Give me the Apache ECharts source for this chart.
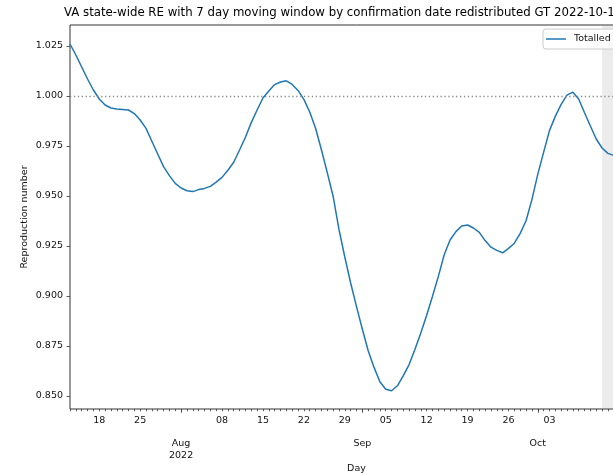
<!DOCTYPE html>
<html>
<head>
<meta charset="utf-8">
<script src="https://cdn.jsdelivr.net/npm/echarts@6/dist/echarts.min.js"></script>
<style>
  html, body { margin: 0; padding: 0; background: #fff; overflow: hidden; }
  /* the figure is wider than the window; its right part falls outside the view */
  #chart { width: 660px; height: 475px; }
</style>
</head>
<body>
<div id="chart"></div>
<script>
// Daily reproduction number estimates, starting 2022-07-13
const startDate = '2022-07-13';
const reValues = [
  1.0260, 1.0205, 1.0145, 1.0085, 1.0030, 0.9985, 0.9955, 0.9940, 0.9935, 0.9933,
  0.9930, 0.9912, 0.9880, 0.9838, 0.9774, 0.9710, 0.9647, 0.9602, 0.9563, 0.9540,
  0.9526, 0.9522, 0.9532, 0.9538, 0.9548, 0.9569, 0.9593, 0.9629, 0.9669, 0.9730,
  0.9794, 0.9867, 0.9930, 0.9990, 1.0025, 1.0057, 1.0070, 1.0076, 1.0058, 1.0028,
  0.9983, 0.9920, 0.9839, 0.9731, 0.9617, 0.9499, 0.9333, 0.9195, 0.9065, 0.8947,
  0.8834, 0.8726, 0.8643, 0.8571, 0.8534, 0.8526, 0.8551, 0.8602, 0.8657, 0.8734,
  0.8815, 0.8904, 0.8999, 0.9098, 0.9206, 0.9280, 0.9322, 0.9350, 0.9355, 0.9340,
  0.9318, 0.9277, 0.9244, 0.9228, 0.9216, 0.9238, 0.9264, 0.9313, 0.9376, 0.9482,
  0.9608, 0.9718, 0.9827, 0.9898, 0.9958, 1.0004, 1.0019, 0.9985, 0.9916, 0.9850,
  0.9785, 0.9740, 0.9713, 0.9703
];

// Axis ticks
const weekTicks = ['2022-07-18', '2022-07-25', '2022-08-08', '2022-08-15', '2022-08-22',
  '2022-08-29', '2022-09-05', '2022-09-12', '2022-09-19', '2022-09-26', '2022-10-03'];
const monthTicks = ['2022-08-01', '2022-09-01', '2022-10-01'];
const monthLabels = ['Aug\n2022', 'Sep', 'Oct'];
const yTicks = [0.850, 0.875, 0.900, 0.925, 0.950, 0.975, 1.000, 1.025];

// Incomplete-data period shaded at the end
const shadeStart = '2022-10-12';
const axisEnd = '2022-10-19';

const DAY = 86400000;
const ts = s => Date.parse(s + 'T00:00:00Z');
const t0 = ts(startDate);
const seriesData = reValues.map((v, i) => [t0 + i * DAY, v]);
const monthTs = monthTicks.map(ts);

const FONT = 'DejaVu Sans';
const labelFont = { fontFamily: FONT, fontSize: 9.5, color: '#111' };

const chart = echarts.init(document.getElementById('chart'), null, { renderer: 'canvas' });

chart.setOption({
  animation: false,
  backgroundColor: '#fff',
  title: {
    text: 'VA state-wide RE with 7 day moving window by confirmation date redistributed GT 2022-10-17',
    left: 64,
    top: 7,
    padding: 0,
    textStyle: { fontFamily: FONT, fontSize: 11.75, fontWeight: 'normal', color: '#000' }
  },
  legend: {
    left: 543,
    top: 29,
    padding: [5, 8, 5, 3],
    itemWidth: 20,
    itemHeight: 1.5,
    borderColor: '#cccccc',
    borderWidth: 1,
    borderRadius: 3,
    backgroundColor: 'rgba(255,255,255,0.8)',
    textStyle: { fontFamily: FONT, fontSize: 9.5, color: '#111', padding: [2, 0, 2, 3] },
    data: [{ name: 'Totalled', icon: 'rect' }]
  },
  grid: {
    left: 70,
    top: 25,
    bottom: 66,
    right: 17,
    outerBoundsMode: 'none',
    containLabel: false,
    show: true,
    borderColor: '#333',
    borderWidth: 1,
    backgroundColor: 'transparent'
  },
  xAxis: [
    {
      type: 'value',
      min: t0,
      max: ts(axisEnd),
      interval: DAY,
      axisLine: { show: false },
      splitLine: { show: false },
      axisTick: { show: true, length: 2.2, lineStyle: { color: '#333', width: 0.8 } },
      axisLabel: {
        ...labelFont,
        margin: 7,
        customValues: weekTicks.map(ts),
        formatter: v => String(new Date(v).getUTCDate()).padStart(2, '0')
      },
      name: 'Day',
      nameLocation: 'middle',
      nameGap: 55,
      nameMoveOverlap: false,
      nameTextStyle: { fontFamily: FONT, fontSize: 9.5, color: '#111' }
    },
    {
      type: 'value',
      min: t0,
      max: ts(axisEnd),
      position: 'bottom',
      axisLine: { show: false },
      splitLine: { show: false },
      axisTick: {
        show: true,
        length: 3.8,
        customValues: monthTs,
        lineStyle: { color: '#333', width: 0.8 }
      },
      axisLabel: {
        ...labelFont,
        margin: 29,
        lineHeight: 12,
        customValues: monthTs,
        formatter: v => monthLabels[monthTs.indexOf(v)]
      }
    }
  ],
  yAxis: {
    type: 'value',
    min: 0.8435,
    max: 1.0355,
    axisLine: { show: false },
    splitLine: { show: false },
    axisTick: {
      show: true,
      length: 3.5,
      customValues: yTicks,
      lineStyle: { color: '#333', width: 0.8 }
    },
    axisLabel: {
      ...labelFont,
      margin: 7,
      customValues: yTicks,
      formatter: v => v.toFixed(3)
    },
    name: 'Reproduction number',
    nameLocation: 'middle',
    nameGap: 40,
    nameMoveOverlap: false,
    nameTextStyle: { fontFamily: FONT, fontSize: 9.5, color: '#111' }
  },
  series: [
    {
      name: 'Totalled',
      type: 'line',
      xAxisIndex: 0,
      data: seriesData,
      symbol: 'none',
      smooth: false,
      lineStyle: { color: '#1f77b4', width: 1.5 },
      itemStyle: { color: '#1f77b4' },
      z: 3,
      markLine: {
        silent: true,
        symbol: 'none',
        label: { show: false },
        lineStyle: { color: '#8a8a8a', width: 1.3, type: [1.3, 2.6] },
        data: [{ yAxis: 1.0 }]
      },
      markArea: {
        silent: true,
        itemStyle: { color: 'rgba(128,128,128,0.15)' },
        data: [[{ xAxis: ts(shadeStart) }, { xAxis: ts(axisEnd) }]]
      }
    }
  ]
});
</script>
</body>
</html>
